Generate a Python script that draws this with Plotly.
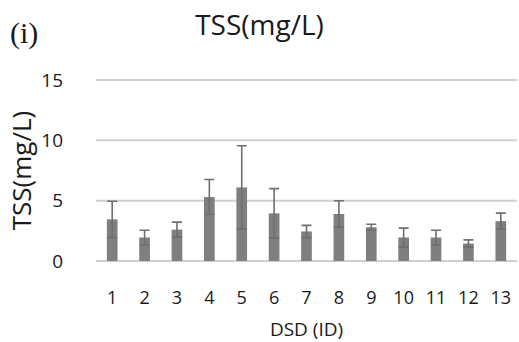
import plotly.graph_objects as go

categories = ["1", "2", "3", "4", "5", "6", "7", "8", "9", "10", "11", "12", "13"]
tss_mean = [3.45, 1.95, 2.6, 5.3, 6.1, 3.95, 2.45, 3.9, 2.8, 1.95, 1.95, 1.45, 3.3]
tss_err = [1.5, 0.6, 0.62, 1.45, 3.45, 2.05, 0.5, 1.1, 0.25, 0.78, 0.6, 0.3, 0.67]
y_ticks = [0, 5, 10, 15]

font = "Open Sans"
txt = "#1a1a1a"
fig = go.Figure()
fig.add_trace(go.Bar(
    x=categories, y=tss_mean,
    marker=dict(color="#7f7f7f", line=dict(width=0)),
    width=0.33,
    error_y=dict(type="data", array=tss_err, visible=True,
                 color="#6f6f6f", thickness=1.6, width=5),
))
fig.update_layout(
    width=519, height=342,
    margin=dict(l=96, r=2, t=79, b=80),
    plot_bgcolor="white", paper_bgcolor="white",
    showlegend=False,
    title=dict(text="TSS(mg/L)", x=0.5, xref="container", xanchor="center",
               y=0.925, yref="container", yanchor="middle",
               font=dict(family=font, size=28, color=txt)),
    font=dict(family=font, size=18, color=txt),
    xaxis=dict(type="category", showgrid=False, showline=False, ticks="",
               tickfont=dict(family=font, size=18, color=txt),
               ticklabelstandoff=23,
               title=dict(text="DSD (ID)", standoff=15,
                          font=dict(family=font, size=19, color=txt))),
    yaxis=dict(range=[-0.08, 15.08], tickvals=y_ticks, showgrid=False,
               zeroline=False, showline=False, ticks="",
               ticklabelstandoff=32,
               tickfont=dict(family=font, size=19, color=txt),
               title=dict(text="TSS(mg/L)", standoff=2,
                          font=dict(family=font, size=26, color=txt))),
    bargap=0.6,
)
for t in y_ticks:
    fig.add_shape(type="line", xref="paper", yref="y", x0=0, x1=1, y0=t, y1=t,
                  line=dict(color="#d0d0d0", width=2), layer="below")
fig.add_annotation(text="(i)", xref="paper", yref="paper",
                   x=-0.209, y=1.25, xanchor="left", yanchor="middle",
                   showarrow=False,
                   font=dict(family="Liberation Serif", size=30, color=txt))
fig.write_html("out.html")
